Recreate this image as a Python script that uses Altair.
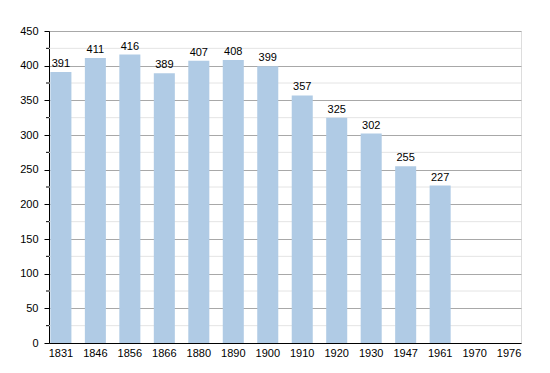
import altair as alt
import pandas as pd

years = ["1831", "1846", "1856", "1866", "1880", "1890", "1900", "1910", "1920", "1930", "1947", "1961", "1970", "1976"]
population = [391, 411, 416, 389, 407, 408, 399, 357, 325, 302, 255, 227, None, None]
major_ticks = [0, 50, 100, 150, 200, 250, 300, 350, 400, 450]
minor_ticks = [25, 75, 125, 175, 225, 275, 325, 375, 425]

df = pd.DataFrame({"year": years, "pop": population})
minor_df = pd.DataFrame({"v": minor_ticks})

FONT = "Liberation Sans"

xscale = alt.Scale(domain=years, paddingInner=0.39, paddingOuter=0.04)
yscale = alt.Scale(domain=[0, 450], nice=False)

yaxis = alt.Axis(values=major_ticks, grid=True, gridColor="#a8a8a8",
                 tickSize=5, tickColor="#000000", domainColor="#000000",
                 labelFont=FONT, labelFontSize=11, labelColor="#000000",
                 labelPadding=6)
xaxis = alt.Axis(labelAngle=0, ticks=False, domainColor="#000000",
                 labelFont=FONT, labelFontSize=11, labelColor="#000000",
                 labelPadding=4, grid=False)

minor_grid = alt.Chart(minor_df).mark_rule(color="#e4e4e4", strokeWidth=1).encode(
    y=alt.Y("v:Q", scale=yscale, axis=yaxis, title=None),
)

minor_tick = alt.Chart(minor_df).mark_rule(color="#000000", strokeWidth=1).encode(
    y=alt.Y("v:Q", scale=yscale, axis=yaxis, title=None),
    x=alt.value(-3),
    x2=alt.value(0),
)

bars = alt.Chart(df).mark_bar(color="#b0cbe5").encode(
    x=alt.X("year:N", scale=xscale, sort=years, title=None, axis=xaxis),
    y=alt.Y("pop:Q", scale=yscale, title=None, axis=yaxis),
)

labels = alt.Chart(df).mark_text(baseline="bottom", dy=-3, font=FONT, fontSize=11, color="#000000").encode(
    x=alt.X("year:N", scale=xscale, sort=years, title=None, axis=xaxis),
    y=alt.Y("pop:Q", scale=yscale, title=None, axis=yaxis),
    text=alt.Text("pop:Q"),
)

chart = alt.layer(minor_grid, bars, labels, minor_tick).properties(
    width=472, height=312,
    padding={"left": 41, "top": 23, "right": 13, "bottom": 20},
    autosize=alt.AutoSizeParams(type="none"),
).configure_view(stroke=None).configure(background="#ffffff")

chart.save("out.html", embed_options={"renderer": "svg", "actions": False})
